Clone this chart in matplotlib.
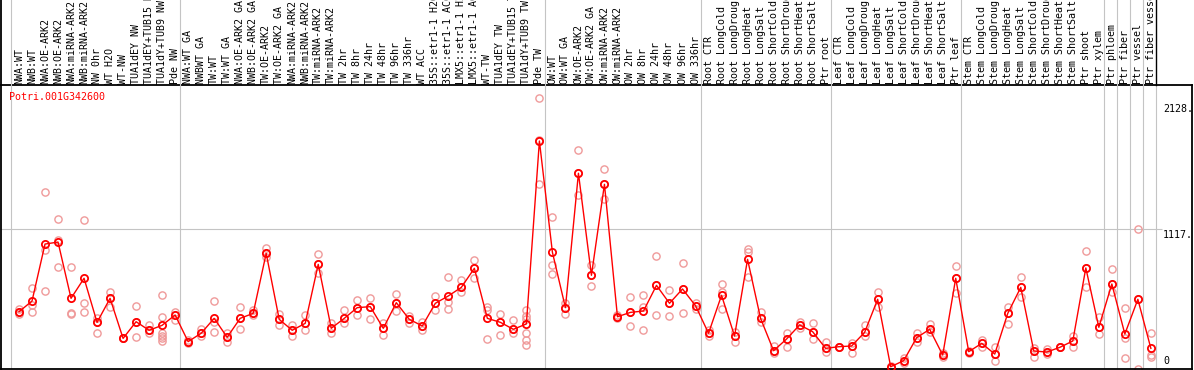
import matplotlib
matplotlib.use("Agg")
import matplotlib.pyplot as plt
import matplotlib.transforms as mtransforms

samples = [
    "NWA:WT", "NWB:WT", "NWA:OE-ARK2", "NWB:OE-ARK2", "NWA:miRNA-ARK2", "NWB:miRNA-ARK2",
    "NW 0hr", "WT H2O", "WT-NW", "TUA1dEY NW", "TUA1dEY+TUB15 NW", "TUA1dY+TUB9 NW", "Pde NW",
    "NWA:WT GA", "NWBWT GA", "TW:WT", "TW:WT GA", "NWA:OE-ARK2 GA", "NWB:OE-ARK2 GA",
    "TW:OE-ARK2", "TW:OE-ARK2 GA", "NWA:miRNA-ARK2", "NWB:miRNA-ARK2", "TW:miRNA-ARK2",
    "TW:miRNA-ARK2", "TW 2hr", "TW 8hr", "TW 24hr", "TW 48hr", "TW 96hr", "TW 336hr", "WT ACC",
    "35S::etr1-1 H2O", "35S::etr1-1 ACC", "LMX5::etr1-1 H2O", "LMX5::etr1-1 ACC", "WT-TW",
    "TUA1dEY TW", "TUA1dEY+TUB15 TW", "TUA1dY+TUB9 TW", "Pde TW",
    "OW:WT", "OW:WT GA", "OW:OE-ARK2", "OW:OE-ARK2 GA", "OW:miRNA-ARK2", "OW:miRNA-ARK2",
    "OW 2hr", "OW 8hr", "OW 24hr", "OW 48hr", "OW 96hr", "OW 336hr",
    "Root CTR", "Root LongCold", "Root LongDrought", "Root LongHeat", "Root LongSalt",
    "Root ShortCold", "Root ShortDrought", "Root ShortHeat", "Root ShortSalt", "Ptr root",
    "Leaf CTR", "Leaf LongCold", "Leaf LongDrought", "Leaf LongHeat", "Leaf LongSalt",
    "Leaf ShortCold", "Leaf ShortDrought", "Leaf ShortHeat", "Leaf ShortSalt", "Ptr leaf",
    "Stem CTR", "Stem LongCold", "Stem LongDrought", "Stem LongHeat", "Stem LongSalt",
    "Stem ShortCold", "Stem ShortDrought", "Stem ShortHeat", "Stem ShortSalt", "Ptr shoot",
    "Ptr xylem", "Ptr phloem", "Ptr fiber", "Ptr vessel", "Ptr fiber vessel",
]

means = [
    452, 538, 996, 1012, 560, 721, 367, 560, 238, 372, 303, 343, 426,
    212, 279, 399, 247, 399, 439, 921, 391, 303, 359, 833, 319, 399, 485, 493, 319,
    525, 391, 338, 520, 579, 648, 801, 399, 367, 311, 354, 1824,
    930, 485, 1565, 745, 1476, 412, 447, 458, 664, 520, 635, 501,
    279, 584, 257, 873, 399, 139, 233, 346, 292, 158,
    171, 177, 287, 552, 10, 59, 244, 311, 104, 721,
    131, 198, 112, 439, 648, 137, 128, 166, 217, 804, 327,
    675, 273, 552, 158,
]

replicates = [
    [472, 434, 452], [640, 506, 452], [1417, 948, 619], [1195, 814, 1027],
    [814, 439, 430], [1187, 520, 452], [399, 372, 284], [608, 493, 560],
    [238, 238, 238], [498, 372, 247], [343, 303, 279], [587, 407, 284, 260, 238, 220],
    [452, 386, 426],
    [212, 225, 200], [311, 279, 257], [538, 292, 370], [284, 247, 212],
    [488, 399, 313], [466, 424, 439], [967, 889, 921], [434, 391, 346],
    [343, 303, 260], [426, 359, 303], [916, 833, 761], [359, 319, 279],
    [466, 399, 359], [546, 485, 426], [562, 493, 391], [359, 319, 265],
    [592, 525, 458], [415, 391, 359], [372, 338, 306], [579, 520, 466],
    [734, 533, 472], [707, 648, 613], [868, 801, 721], [493, 470, 230],
    [434, 367, 265], [386, 311, 279], [464, 420, 390, 284, 228, 185], [2167, 1829, 1476],
    [1211, 828, 755], [520, 485, 434], [1752, 1565, 1390], [828, 745, 661],
    [1599, 1476, 1356], [412, 400, 425], [568, 447, 338], [584, 488, 303],
    [897, 664, 424], [627, 520, 418], [841, 635, 439], [520, 501, 472],
    [306, 279, 257], [675, 611, 472], [292, 257, 212], [954, 935, 729],
    [452, 399, 370], [180, 139, 120], [279, 233, 171], [372, 346, 319],
    [359, 292, 236], [212, 158, 126],
    [171, 171, 171], [198, 177, 118], [346, 287, 260], [611, 552, 493],
    [10, -3, 20], [78, 59, 43], [279, 244, 212], [354, 311, 290],
    [120, 104, 90], [820, 721, 600],
    [140, 131, 120], [225, 198, 168], [171, 112, 56], [493, 439, 354],
    [729, 648, 573], [160, 137, 91], [150, 128, 110], [166, 166, 166],
    [260, 217, 166], [940, 804, 648], [412, 327, 271],
    [793, 675, 613], [480, 238, 78], [1114, 552, -10], [279, 104, 90],
]

group_starts = [0, 13, 41, 53, 63, 73, 84, 85, 86, 87, 88]
axis_ticks = [2128, 1117, 0]
axis_tick_labels = ["2128.", "1117.", "0"]
gene_id = "Potri.001G342600"

W, H = 1194, 370
fig = plt.figure(figsize=(W / 100, H / 100), dpi=100)
fig.patch.set_facecolor("white")

def fx(px):
    return px / W

def fy(py):
    return 1 - py / H

X0, STEP = 19.0, 13.01
top_px, bot_px, left_px, right_px = 85, 369, 1, 1192
ax = fig.add_axes([fx(left_px), fy(bot_px), (right_px - left_px) / W, (bot_px - top_px) / H])
ax.set_xlim((left_px - X0) / STEP, (right_px - X0) / STEP)
k = 8.036
ax.set_ylim(-1 * k, (368 - top_px) * k)
ax.set_xticks([])
ax.set_yticks([])
for s in ax.spines.values():
    s.set_color("black")
    s.set_linewidth(1.3)

mono = "DejaVu Sans Mono"
fs = 7.2
grey = "#c4c4c4"

# group separators
trans = mtransforms.blended_transform_factory(ax.transData, fig.transFigure)
for g in group_starts:
    xv = g - 0.6
    ax.axvline(xv, color=grey, lw=0.8, zorder=1)
    col = "black" if g == group_starts[-1] else grey
    fig.add_artist(plt.Line2D([xv, xv], [fy(top_px), 1.0], transform=trans,
                              color=col, lw=0.8 if col == grey else 1.0))

# left border of label area
fig.add_artist(plt.Line2D([fx(1), fx(1)], [fy(top_px), 1.0], transform=fig.transFigure,
                          color="black", lw=1.3))

# horizontal gridline
ax.hlines(axis_ticks[1], (left_px - X0) / STEP, (1162 - X0) / STEP, color=grey, lw=0.8, zorder=1)

# replicates
for i, reps in enumerate(replicates):
    ax.plot([i] * len(reps), reps, linestyle="none", marker="o", markersize=5.2,
            markerfacecolor="none", markeredgecolor="#ef9a9a", markeredgewidth=1.0, zorder=2)

xs = list(range(len(means)))
ax.plot(xs, means, color="#ff0000", lw=1.0, zorder=3)
ax.plot(xs, means, linestyle="none", marker="o", markersize=5.2, markerfacecolor="none",
        markeredgecolor="#ff0000", markeredgewidth=1.3, zorder=4)

# sample labels
for i, lab in enumerate(samples):
    fig.text(fx(X0 + STEP * i), fy(84), lab, rotation=90, ha="center", va="bottom",
             family=mono, fontsize=fs, color="black")

# right axis labels
label_x = (1163 - X0) / STEP
for v, t in zip(axis_ticks, axis_tick_labels):
    va = "bottom" if v == 0 else "top"
    off = 2 if v == 0 else -1
    ax.annotate(t, (label_x, v), xytext=(0, off), textcoords="offset pixels",
                ha="left", va=va, family=mono, fontsize=fs, color="black")

fig.text(fx(9), fy(97), gene_id, ha="left", va="center", family=mono, fontsize=fs, color="#ff0000")

fig.savefig("out.png", dpi=100, facecolor="white")
